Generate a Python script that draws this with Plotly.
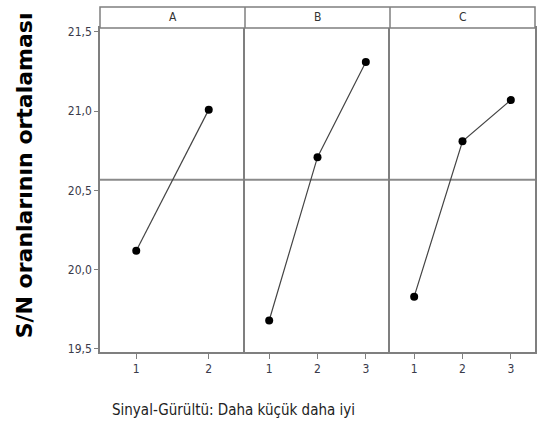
import numpy as np
import plotly.graph_objects as go
from plotly.subplots import make_subplots

factors = ["A", "B", "C"]
levels_A = [1, 2]
levels_B = [1, 2, 3]
levels_C = [1, 2, 3]
sn_A = [20.12, 21.01]
sn_B = [19.68, 20.71, 21.31]
sn_C = [19.83, 20.81, 21.07]
y_ticks = [19.5, 20.0, 20.5, 21.0, 21.5]
y_ticktext = ["19,5", "20,0", "20,5", "21,0", "21,5"]
y_title = "S/N oranlarının ortalaması"
footer = "Sinyal-Gürültü: Daha küçük daha iyi"

levels = [levels_A, levels_B, levels_C]
values = [sn_A, sn_B, sn_C]
overall_mean = float(np.mean(sn_A + sn_B + sn_C))

W, H = 538, 426
ml, mr, mt, mb = 100, 1, 28, 74
plot_h = H - mt - mb
frame = "#7f7f7f"
narrow = "DejaVu Sans Condensed, Liberation Sans Narrow, Arial Narrow, sans-serif"
tickfont = dict(family=narrow, size=12, color="#3a3a4a")

fig = make_subplots(rows=1, cols=3, shared_yaxes=True, horizontal_spacing=0)

for i, (lv, vals) in enumerate(zip(levels, values)):
    fig.add_trace(go.Scatter(
        x=lv, y=vals, mode="lines+markers",
        line=dict(color="#444444", width=1.2),
        marker=dict(color="black", size=8),
        showlegend=False, hoverinfo="x+y"), row=1, col=i + 1)
    n = len(lv)
    fig.update_xaxes(range=[0.5, n + 0.5], tickvals=lv, ticktext=[str(v) for v in lv],
                     showgrid=False, zeroline=False, showline=True, mirror=True,
                     linecolor=frame, linewidth=1.5, ticks="outside", ticklen=5,
                     tickcolor=frame, tickfont=tickfont, row=1, col=i + 1)
    fig.update_yaxes(showline=True, mirror=(i == 2), linecolor=frame, linewidth=1.5,
                     row=1, col=i + 1)
    xref = "x" if i == 0 else f"x{i+1}"
    yref = "y" if i == 0 else f"y{i+1}"
    fig.add_shape(type="line", xref=f"{xref} domain", yref=yref,
                  x0=0, x1=1, y0=overall_mean, y1=overall_mean,
                  line=dict(color="#8a8a8a", width=2), layer="below")

fig.update_yaxes(range=[19.481, 21.525], tickvals=y_ticks, ticktext=y_ticktext,
                 showgrid=False, zeroline=False)
fig.update_yaxes(ticks="outside", ticklen=4, tickcolor=frame, tickfont=tickfont,
                 row=1, col=1)

# strip header
strip_h = 21 / plot_h
fig.add_shape(type="rect", xref="paper", yref="paper", x0=0, x1=1, y0=1, y1=1 + strip_h,
              line=dict(color=frame, width=1.5), fillcolor="white")
for i, f in enumerate(factors):
    xref = "x" if i == 0 else f"x{i+1}"
    if i > 0:
        fig.add_shape(type="line", xref=f"{xref} domain", yref="paper", x0=0, x1=0,
                      y0=1, y1=1 + strip_h, line=dict(color=frame, width=1.5))
    fig.add_annotation(text=f, xref=f"{xref} domain", yref="paper", x=0.5,
                       y=1 + strip_h / 2, showarrow=False, yanchor="middle",
                       font=dict(family=narrow, size=12, color="#333333"))

fig.add_annotation(text=f"<b>{y_title}</b>", xref="paper", yref="paper",
                   x=-(ml - 24) / (W - ml - mr), y=(H - mb - 175) / plot_h,
                   textangle=-90, showarrow=False, xanchor="center", yanchor="middle",
                   font=dict(family="DejaVu Sans", size=22, color="black"))
fig.add_annotation(text=footer, xref="paper", yref="paper",
                   x=(110 - ml) / (W - ml - mr), y=-(410 - (H - mb)) / plot_h,
                   xanchor="left", yanchor="middle", showarrow=False,
                   font=dict(family=narrow, size=15, color="#222222"))

fig.update_layout(width=W, height=H, margin=dict(l=ml, r=mr, t=mt, b=mb),
                  plot_bgcolor="white", paper_bgcolor="white")
fig.write_html("out.html", config={"displayModeBar": False},
               post_script="document.body.style.margin='0';document.body.style.overflow='hidden';")
